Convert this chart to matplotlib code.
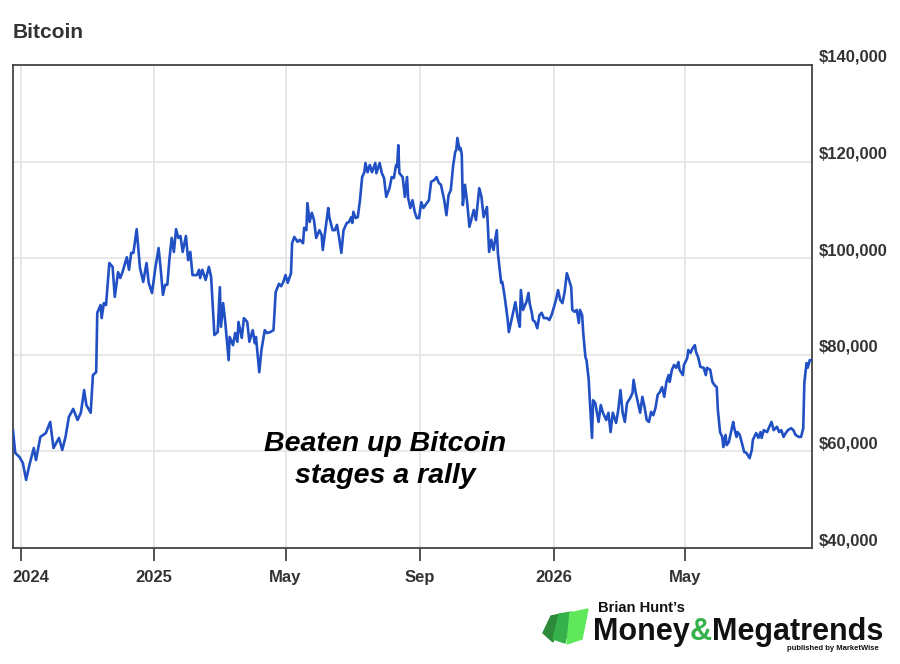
import numpy as np
import pandas as pd
import matplotlib
matplotlib.use("Agg")
import matplotlib.pyplot as plt
from matplotlib.ticker import FuncFormatter
from matplotlib.transforms import ScaledTranslation
from matplotlib.patches import Polygon

# dias desde 2024-09-01 e preco (milhares de USD)
day_offset = [
    -7, -5, -1, 2, 5, 8, 12, 14, 18, 23, 27, 30, 35, 38, 41, 44, 48, 52, 55, 58,
    60, 64, 66, 69, 70, 73, 74, 76, 78, 81, 84, 86, 89, 91, 93, 97, 99, 101, 103, 106,
    109, 112, 115, 117, 120, 123, 126, 128, 130, 132, 134, 136, 138, 140, 142, 144, 146, 148, 151, 153,
    155, 157, 161, 163, 164, 166, 169, 172, 174, 177, 180, 182, 183, 185, 187, 190, 191, 194, 196, 198,
    199, 202, 204, 207, 209, 212, 214, 215, 217, 218, 220, 223, 225, 228, 231, 233, 236, 238, 240, 242,
    244, 247, 248, 250, 253, 255, 258, 259, 261, 262, 264, 266, 268, 270, 273, 275, 276, 278, 281, 282,
    285, 287, 289, 291, 293, 295, 298, 300, 302, 303, 304, 306, 308, 310, 312, 314, 315, 317, 319, 321,
    324, 325, 328, 330, 332, 334, 337, 339, 341, 343, 344, 345, 346, 349, 351, 353, 354, 356, 358, 360,
    362, 364, 366, 368, 371, 373, 375, 378, 380, 382, 384, 386, 387, 389, 391, 393, 395, 397, 398, 399,
    401, 402, 403, 404, 406, 408, 410, 414, 416, 419, 421, 423, 426, 428, 430, 432, 435, 436, 439, 440,
    442, 445, 446, 449, 452, 454, 456, 457, 459, 462, 464, 465, 467, 468, 470, 472, 474, 476, 478, 481,
    483, 485, 487, 489, 491, 493, 495, 497, 499, 501, 503, 504, 506, 508, 510, 511, 513, 514, 516, 517,
    519, 520, 522, 523, 525, 528, 530, 532, 535, 537, 539, 541, 544, 546, 548, 550, 552, 554, 557, 559,
    560, 562, 564, 566, 568, 570, 572, 574, 576, 578, 580, 582, 584, 586, 588, 590, 592, 593, 595, 597,
    599, 601, 602, 605, 606, 609, 610, 612, 614, 616, 617, 619, 621, 624, 626, 627, 630, 632, 634, 636,
    637, 639, 641, 642, 644, 645, 647, 649, 651, 652, 654, 655, 657, 659, 661, 663, 666, 668, 669, 672,
    674, 676, 677, 679, 682, 684, 686, 688, 691, 693, 695, 697, 699, 701, 704, 706, 708, 711, 713, 715,
    716, 718, 719, 721, 723,
]
price_k = [
    64.4, 59.7, 58.8, 57.6, 54.1, 57.2, 60.7, 58.2, 63.0, 63.8, 66.1, 60.7, 62.8, 60.3, 63.0, 67.1, 68.8, 66.5, 68.0, 72.7,
    69.6, 68.0, 75.8, 76.4, 88.7, 90.3, 87.6, 90.7, 90.3, 99.0, 98.2, 92.0, 97.1, 95.9, 97.1, 100.2, 97.6, 101.1, 101.1, 106.0,
    98.0, 95.1, 99.0, 94.9, 92.8, 97.9, 102.1, 97.6, 92.4, 94.5, 94.5, 100.0, 104.2, 101.3, 106.0, 104.2, 104.6, 101.3, 104.6, 99.6,
    101.3, 96.5, 96.5, 97.6, 95.9, 97.6, 95.5, 98.2, 96.1, 84.1, 84.7, 94.0, 85.8, 90.7, 86.6, 78.9, 83.7, 82.0, 84.5, 82.7,
    86.8, 83.5, 87.6, 86.8, 82.7, 85.1, 82.4, 83.7, 78.9, 76.4, 81.0, 85.1, 84.5, 84.7, 85.1, 93.0, 94.7, 94.2, 95.1, 96.5,
    94.9, 96.9, 103.1, 104.4, 103.4, 103.8, 103.1, 106.3, 105.8, 111.4, 107.5, 109.4, 107.9, 104.2, 105.8, 104.8, 101.7, 105.2, 110.4, 108.5,
    105.8, 105.8, 106.9, 104.2, 101.1, 105.8, 107.3, 107.5, 108.5, 107.3, 109.6, 108.3, 108.5, 112.0, 116.8, 117.8, 119.7, 117.8, 119.3, 117.8,
    119.7, 117.6, 119.7, 117.6, 116.6, 112.7, 114.5, 116.8, 116.6, 119.3, 118.9, 123.4, 117.6, 116.8, 112.7, 116.8, 112.5, 110.4, 112.0, 109.6,
    108.3, 108.3, 111.6, 110.4, 111.4, 112.0, 115.8, 116.2, 116.8, 115.6, 115.2, 113.1, 112.0, 108.9, 113.1, 114.1, 118.9, 122.0, 122.4, 124.9,
    122.4, 122.8, 121.4, 111.0, 115.2, 111.4, 106.5, 110.0, 107.9, 114.5, 112.7, 108.5, 110.6, 101.3, 103.8, 101.7, 105.8, 101.1, 94.9, 95.1,
    92.4, 87.2, 84.7, 87.8, 90.9, 87.8, 85.8, 93.4, 89.3, 90.9, 92.8, 90.7, 88.7, 87.2, 86.8, 85.5, 88.2, 88.7, 87.6, 87.6,
    87.2, 88.2, 89.7, 91.3, 93.4, 91.3, 90.7, 93.0, 96.9, 95.5, 94.0, 89.3, 88.9, 89.3, 86.6, 89.3, 88.2, 84.5, 79.5, 78.9,
    74.8, 70.6, 62.8, 70.6, 70.0, 66.1, 69.6, 68.0, 66.5, 68.0, 64.0, 68.0, 65.9, 68.6, 72.7, 68.0, 66.1, 70.0, 71.1, 72.1,
    74.8, 72.1, 70.0, 68.0, 71.3, 69.2, 66.5, 66.1, 68.2, 67.5, 69.0, 71.7, 72.3, 73.3, 71.3, 74.4, 75.8, 74.4, 76.9, 77.9,
    77.3, 78.5, 76.9, 75.8, 77.9, 79.3, 81.0, 80.4, 81.4, 82.0, 80.6, 79.5, 77.5, 77.3, 75.8, 77.3, 76.9, 74.4, 73.7, 73.3,
    68.6, 64.0, 63.0, 60.9, 63.4, 61.3, 61.9, 64.0, 66.1, 64.8, 63.0, 64.0, 63.4, 61.7, 59.9, 59.7, 58.6, 60.3, 62.4, 63.8,
    62.8, 64.0, 62.8, 64.4, 64.0, 65.1, 66.1, 64.4, 65.1, 64.0, 64.4, 63.0, 63.8, 64.4, 64.8, 64.4, 63.4, 63.0, 63.0, 64.8,
    74.2, 78.3, 77.3, 78.9, 78.9,
]

tick_dates = ["2024-09-01", "2025-01-01", "2025-05-01", "2025-09-01", "2026-01-01", "2026-05-01"]
tick_labels = ["2024", "2025", "May", "Sep", "2026", "May"]
y_ticks = [40000, 60000, 80000, 100000, 120000, 140000]

dates = pd.Timestamp("2024-09-01") + pd.to_timedelta(day_offset, unit="D")
prices = np.array(price_k) * 1000

plt.rcParams["font.family"] = ["Liberation Sans", "DejaVu Sans"]

fig = plt.figure(figsize=(9, 6.64), dpi=100)
ax = fig.add_axes([13 / 900, 116 / 664, 799 / 900, 483 / 664])

ax.plot(dates, prices, color="#2150c4", lw=1.9, solid_joinstyle="round", zorder=3)

ax.set_xlim(dates[0], dates[-1])
ax.set_ylim(y_ticks[0], y_ticks[-1])

# grelha
ax.set_xticks(pd.to_datetime(tick_dates))
ax.set_xticklabels(tick_labels)
ax.set_yticks(y_ticks)
ax.yaxis.set_major_formatter(FuncFormatter(lambda v, p: "${:,.0f}".format(v)))
ax.grid(True, color="#e6e6e6", lw=1.3, zorder=0)
ax.set_axisbelow(True)

for s in ax.spines.values():
    s.set_color("#444444")
    s.set_linewidth(1.3)

ax.yaxis.tick_right()
ax.tick_params(axis="y", length=0, pad=5, labelsize=12, labelcolor="#333333")
ax.tick_params(axis="x", length=9, width=1.3, color="#444444", direction="out", pad=7,
               labelsize=12, labelcolor="#333333")
for lab in ax.get_yticklabels() + ax.get_xticklabels():
    lab.set_fontweight("bold")
for lab in ax.get_yticklabels():
    lab.set_transform(lab.get_transform() + ScaledTranslation(0, 0.09, fig.dpi_scale_trans))
# primeiro rotulo encostado a esquerda
first = ax.get_xticklabels()[0]
first.set_horizontalalignment("left")
first.set_transform(first.get_transform() + ScaledTranslation(-0.08, 0, fig.dpi_scale_trans))

fig.text(13 / 900, 1 - 32 / 664, "Bitcoin", fontsize=15, fontweight="bold", color="#333333", va="center")

fig.text(385 / 900, 1 - 460 / 664, "Beaten up Bitcoin\nstages a rally", fontsize=20.5,
         fontweight="bold", fontstyle="italic", ha="center", va="center", color="black",
         linespacing=1.3)

# logotipo
def fig_poly(pts, color):
    xy = [(px / 900, 1 - py / 664) for px, py in pts]
    fig.patches.append(Polygon(xy, closed=True, color=color, transform=fig.transFigure))

fig_poly([(551, 616), (561, 614), (553, 642), (543, 633)], "#2c8a3a")
fig_poly([(559, 614), (572, 612), (565, 643), (553, 639)], "#35b04a")
fig_poly([(570, 613), (588, 609), (582, 639), (567, 644)], "#5ee85a")

fig.text(598 / 900, 1 - 608 / 664, "Brian Hunt\u2019s", fontsize=10.6, fontweight="bold", color="#111111", va="center")

fig.canvas.draw()
renderer = fig.canvas.get_renderer()
x_pos = 593 / 900
for part, col in [("Money", "#111111"), ("&", "#36b24a"), ("Megatrends", "#111111")]:
    t = fig.text(x_pos, 1 - 632 / 664, part, fontsize=22, fontweight="bold", color=col, va="center")
    bb = t.get_window_extent(renderer)
    x_pos = bb.x1 / fig.bbox.width

fig.text(879 / 900, 1 - 649 / 664, "published by MarketWise", fontsize=5.5, fontweight="bold", color="#111111",
         va="center", ha="right")

fig.savefig("out.png", dpi=100)
